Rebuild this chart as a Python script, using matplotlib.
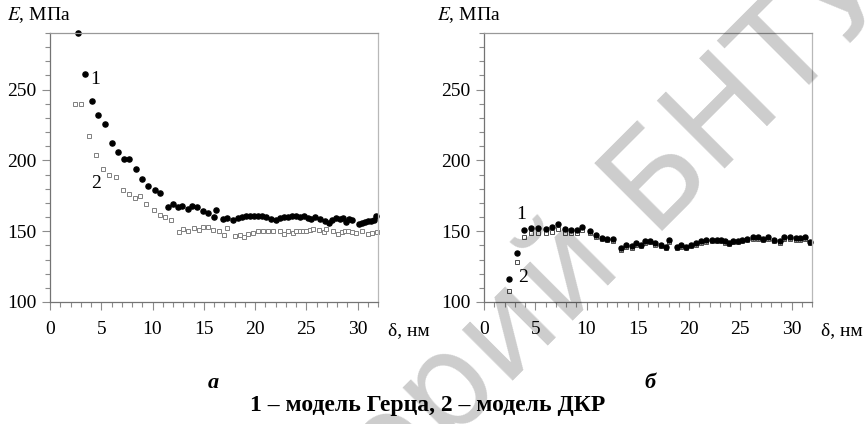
import matplotlib
matplotlib.use("Agg")
import matplotlib.pyplot as plt
from matplotlib.ticker import MultipleLocator

plt.rcParams["font.family"] = ["Liberation Serif", "DejaVu Serif"]

# panel a: Hertz model (1) and JKR model (2)
a_x1 = [2.7, 3.4, 4.1, 4.7, 5.4, 6.0, 6.6, 7.25, 7.7, 8.4, 9.0, 9.6, 10.2, 10.7,
        11.5, 12.0, 12.5, 12.9, 13.5, 13.9, 14.3, 14.9, 15.4, 16.0, 16.2, 16.9,
        17.3, 17.9, 18.3, 18.7, 19.1, 19.5, 19.9, 20.3, 20.7, 21.1, 21.6, 22.0,
        22.4, 22.8, 23.2, 23.6, 24.0, 24.4, 24.8, 25.2, 25.5, 25.9, 26.3, 26.8,
        27.2, 27.5, 27.9, 28.3, 28.6, 28.9, 29.2, 29.5, 30.1, 30.4, 30.7, 31.0,
        31.3, 31.6, 31.8]
a_y1 = [290, 261, 242, 232, 226, 212, 206, 201, 201, 194, 187, 182, 179, 177,
        167, 169, 167, 168, 166, 168, 167, 164.5, 162.6, 160, 165, 158.6,
        159.3, 157.9, 159.0, 159.8, 160.4, 160.9, 161.0, 160.9, 160.6, 160.0, 158.6, 157.6,
        159.2, 159.8, 160.2, 160.4, 160.6, 160.0, 160.6, 159.4, 158.4, 159.8, 158.6, 157.4,
        155.7, 158.0, 159.0, 158.6, 159.2, 156.2, 158.6, 157.8, 155.0, 156.0, 156.8, 157.2,
        157.4, 158.0, 160.5]
a_x2 = [2.4, 3.0, 3.8, 4.5, 5.2, 5.8, 6.4, 7.1, 7.7, 8.3, 8.8, 9.4, 10.1, 10.7,
        11.25, 11.8, 12.6, 13.0, 13.5, 14.0, 14.5, 14.9, 15.4, 15.9, 16.5, 17.0,
        17.3, 18.05, 18.5, 18.9, 19.3, 19.8, 20.3, 20.8, 21.3, 21.8, 22.4, 22.8,
        23.25, 23.7, 24.0, 24.4, 24.7, 25.0, 25.4, 25.7, 26.2, 26.7, 26.9, 27.6,
        28.1, 28.5, 28.8, 29.1, 29.5, 29.9, 30.4, 31.05, 31.4, 31.9]
a_y2 = [239.7, 239.7, 217.6, 204, 194, 190, 188, 179, 176, 173.3, 174.8, 169, 165, 161.4,
        159.8, 158, 149.5, 151.6, 150.5, 152.3, 150.7, 153.3, 152.8, 151, 149.8, 147.4,
        152, 146.7, 147.5, 146.2, 147.8, 149, 150, 150.2, 150.2, 150, 149.8, 147.8,
        149.8, 148.6, 149.8, 150.2, 150.4, 150.2, 150.8, 151.4, 150.9, 149.7, 151.4, 149.8,
        148.3, 149.7, 150.2, 150.0, 149.6, 148.6, 150.2, 147.8, 149.0, 149.5]

# panel б
b_x = [2.4, 3.2, 3.9, 4.6, 5.3, 6.0, 6.6, 7.2, 7.9, 8.5, 9.1, 9.6, 10.3, 10.9,
       11.5, 12.0, 12.6, 13.4, 13.9, 14.4, 14.8, 15.3, 15.7, 16.2, 16.7, 17.3,
       17.8, 18.0, 18.8, 19.2, 19.7, 20.2, 20.7, 21.2, 21.7, 22.2, 22.7, 23.1,
       23.5, 23.9, 24.3, 24.8, 25.2, 25.7, 26.2, 26.7, 27.2, 27.7, 28.3, 28.9,
       29.3, 29.9, 30.4, 30.8, 31.3, 31.8]
b_y1 = [116.2, 134.3, 151.2, 152.4, 152.4, 151.9, 153.3, 155.2, 151.4, 150.9, 150.7, 152.8, 150, 147.4,
        145.2, 144.6, 144.3, 138.2, 140.5, 139.4, 141.6, 140.5, 143, 143.2, 141.4, 140.6,
        139.2, 143.6, 138.8, 140, 138.8, 140.4, 141.6, 142.8, 143.5, 143.8, 144, 143.8,
        142.8, 141.8, 143.4, 143.2, 144, 144.5, 145.6, 145.6, 144.5, 145.6, 144, 142.8,
        145.6, 145.6, 145.0, 145.0, 145.6, 142.5]
b_y2 = [107.6, 128, 146, 148.4, 148.6, 148.4, 149.6, 151.5, 149, 148.4, 148.4, 151.2, 148.4, 146,
        144.2, 143.8, 143.1, 136.8, 139.2, 138.2, 140.4, 139.4, 142, 142.2, 140.4, 139.6,
        137.8, 142.2, 137.8, 139, 137.8, 139.4, 140.6, 141.8, 142.6, 142.8, 143, 142.8,
        141.8, 140.8, 142.4, 142.2, 143, 143.6, 144.6, 144.6, 143.6, 144.6, 143, 141.8,
        144.6, 144.6, 144, 144, 144.6, 141.8]

fig = plt.figure(figsize=(8.65, 4.24), dpi=100)
W, H = 865.0, 424.0


def px(x, y):
    return x / W, 1 - y / H


def setup(ax):
    ax.set_xlim(0, 32)
    ax.set_ylim(100, 290)
    ax.xaxis.set_major_locator(MultipleLocator(5))
    ax.xaxis.set_minor_locator(MultipleLocator(1))
    ax.set_yticks([100, 150, 200, 250])
    ax.yaxis.set_minor_locator(MultipleLocator(10))
    ax.tick_params(which="both", direction="out", color="0.55", width=0.8,
                   labelsize=14, labelcolor="black")
    ax.tick_params(axis="x", which="major", length=6, pad=8)
    ax.tick_params(axis="x", which="minor", length=3.5)
    ax.tick_params(axis="y", which="major", length=6, pad=4)
    ax.tick_params(axis="y", which="minor", length=3.5)
    ax.spines["left"].set_color("0.45")
    ax.spines["bottom"].set_color("0.45")
    ax.spines["top"].set_color("0.6")
    ax.spines["right"].set_color("0.72")
    for s in ax.spines.values():
        s.set_linewidth(0.9)


ax1 = fig.add_axes([50 / W, 1 - 302 / H, 328 / W, 269 / H])
ax2 = fig.add_axes([484 / W, 1 - 302 / H, 328 / W, 269 / H])
for ax in (ax1, ax2):
    setup(ax)

ax1.plot(a_x2, a_y2, "s", ms=3.0, mfc="white", mec="0.5", mew=0.7, clip_on=False)
ax1.plot(a_x1, a_y1, "o", ms=3.7, color="black", clip_on=False)
ax2.plot(b_x, b_y2, "s", ms=3.2, mfc="white", mec="0.3", mew=0.7, clip_on=False)
ax2.plot(b_x, b_y1, "o", ms=3.6, mfc="black", mec="black", clip_on=False)

ax1.text(4.45, 257, "1", fontsize=14, ha="center", va="center")
ax1.text(4.45, 184, "2", fontsize=14, ha="center", va="center")
ax2.text(3.67, 162, "1", fontsize=14, ha="center", va="center")
ax2.text(3.83, 117, "2", fontsize=14, ha="center", va="center")

# axis captions
for x0 in (7, 437):
    fig.text(*px(x0, 15), "$E$, МПа", fontsize=14, ha="left", va="center",
             math_fontfamily="stix")
for x0 in (388, 821):
    fig.text(*px(x0, 331), "δ, нм", fontsize=14, ha="left", va="center")

fig.text(*px(213, 383), "а", fontsize=16, fontweight="bold", fontstyle="italic",
         ha="center", va="center")
fig.text(*px(650, 383), "б", fontsize=16, fontweight="bold", fontstyle="italic",
         ha="center", va="center")
fig.text(*px(428, 405), "1 – модель Герца, 2 – модель ДКР", fontsize=17,
         fontweight="bold", ha="center", va="center")

# repository watermark
fig.text(*px(650, 232), "БНТУ", fontsize=94, family="DejaVu Sans", color="black",
         alpha=0.2, rotation=45, rotation_mode="anchor", ha="left", va="baseline",
         zorder=10)
fig.text(*px(622, 260), "Репозиторий", fontsize=94, family="DejaVu Sans", color="black",
         alpha=0.2, rotation=45, rotation_mode="anchor", ha="right", va="baseline",
         zorder=10)

fig.savefig("out.png", dpi=100)
